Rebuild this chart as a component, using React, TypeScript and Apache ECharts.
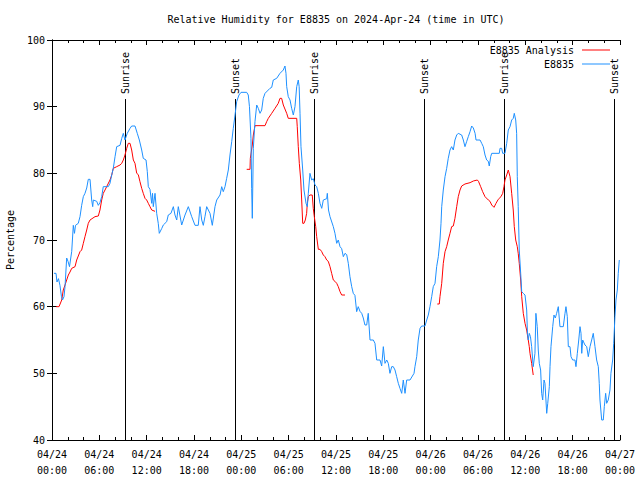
import React, { useEffect, useRef } from "react";
import * as echarts from "echarts";

// Time is in hours since 04/24 00:00 UTC
const titleText = "Relative Humidity for E8835 on 2024-Apr-24 (time in UTC)";
const yAxisName = "Percentage";
const obsName = "E8835";
const anaName = "E8835 Analysis";

const obsHours = [0.25,0.51,0.63,0.82,1.01,1.2,1.33,1.52,1.65,1.86,2.03,2.22,2.5,2.7,2.85,2.98,3.33,3.55,3.76,3.97,4.18,4.4,4.6,4.82,5.03,5.16,5.24,5.67,5.87,6.08,6.3,6.5,7.14,7.35,7.57,7.77,7.99,8.2,8.62,8.84,9.04,9.25,9.54,9.89,10.1,10.52,10.81,11.07,11.37,11.57,11.92,12.08,12.21,12.42,12.64,12.74,12.84,13.06,13.27,13.47,13.6,13.9,14.11,14.54,14.74,15.08,15.38,15.59,15.81,16.01,16.44,16.86,17.28,17.71,18.13,18.54,18.76,18.98,19.18,19.39,19.61,20.03,20.32,20.66,20.88,21.3,21.51,21.71,21.93,22.14,22.35,22.56,22.78,22.98,23.2,23.41,23.7,23.96,24.68,24.88,25.03,25.22,25.31,25.39,25.52,25.73,25.95,26.15,26.37,26.58,26.78,27.0,27.63,27.85,28.05,28.48,28.9,29.32,29.53,29.66,29.75,29.95,30.17,30.38,30.59,30.8,31.02,31.22,31.33,31.44,31.56,31.78,31.94,32.2,32.36,32.49,32.7,32.92,33.12,33.34,33.55,33.76,33.97,34.19,34.39,34.82,34.9,35.05,35.24,35.66,35.87,36.09,36.29,36.51,36.72,36.93,37.14,37.36,37.56,37.77,37.99,38.19,38.4,38.62,38.82,39.04,39.26,39.46,39.67,39.89,40.09,40.31,40.73,40.94,41.16,41.58,41.79,42.0,42.21,42.43,42.63,42.84,43.06,43.26,43.48,43.69,43.9,44.11,44.33,44.53,44.75,44.96,45.38,45.89,46.01,46.23,46.43,46.65,46.86,47.28,47.5,47.7,47.91,48.13,48.33,48.55,48.76,48.97,49.18,49.31,49.4,49.6,49.82,50.03,50.23,50.45,50.66,50.87,51.08,51.3,51.5,51.93,52.14,52.35,52.57,52.77,52.99,53.2,53.41,53.63,53.75,54.26,54.47,54.67,54.89,55.1,55.31,55.43,55.61,55.74,56.7,56.79,57.0,57.13,57.42,57.64,57.84,58.06,58.27,58.47,58.6,58.78,58.9,58.98,59.1,59.23,59.41,59.54,59.74,59.96,60.17,60.27,60.37,60.5,60.65,60.8,61.0,61.22,61.34,61.51,61.64,61.77,61.94,62.07,62.2,62.37,62.49,62.71,62.84,63.04,63.13,63.25,63.47,63.63,63.8,63.97,64.18,64.39,64.81,65.03,65.15,65.32,65.45,65.66,65.79,66.0,66.29,66.42,66.59,66.77,66.93,67.06,67.15,67.27,67.56,67.78,67.98,68.2,68.41,68.61,68.83,69.04,69.25,69.37,69.46,69.68,69.88,70.01,70.18,70.31,70.51,70.73,70.85,71.07,71.2,71.36,71.49,71.66,71.78,71.91];
const obsValues = [65.0,65.0,63.7,64.2,63.2,61.5,61.0,61.5,63.0,67.3,66.8,66.0,68.3,72.2,71.0,72.2,72.5,73.5,75.2,76.5,77.0,77.8,79.1,79.1,76.0,75.0,76.0,75.8,75.2,75.6,76.5,78.0,78.0,78.5,79.75,80.75,82.5,84.0,84.2,85.25,86.0,85.0,86.0,86.75,87.1,87.1,86.0,85.0,83.5,82.25,82.0,80.25,78.0,77.6,75.5,77.0,75.0,77.0,74.0,72.5,71.0,71.7,72.25,72.75,73.75,74.0,75.0,73.75,73.0,75.0,72.25,73.75,75.0,73.5,72.2,72.2,75.0,73.0,72.2,73.5,75.0,74.0,72.2,75.0,76.0,76.75,78.0,77.25,78.0,79.25,80.5,82.75,84.75,86.75,88.75,90.75,91.75,92.15,92.15,91.75,90.0,85.25,77.75,73.25,83.75,87.75,90.25,89.75,89.0,89.5,91.25,92.0,92.75,92.9,94.0,94.25,95.0,95.5,96.1,95.0,93.0,91.5,91.0,89.75,88.75,90.0,93.0,94.0,93.0,89.0,84.0,80.5,77.5,75.5,75.0,77.0,80.0,79.0,79.2,78.25,78.0,77.0,75.5,74.75,76.0,76.2,77.0,74.5,73.5,72.0,71.0,69.5,70.0,69.0,68.7,67.5,68.0,67.8,66.5,64.5,63.0,62.0,61.7,59.25,60.0,59.3,59.0,58.3,57.25,57.25,59.0,55.0,55.0,54.5,52.0,52.0,51.1,54.0,51.5,52.0,51.5,50.0,51.0,51.0,50.5,49.5,48.5,47.75,47.0,49.0,47.0,49.0,49.0,50.0,51.0,52.5,55.0,56.75,57.1,57.1,58.0,58.75,60.0,61.5,63.0,63.5,66.0,67.5,70.0,72.5,75.0,77.5,79.5,80.75,82.25,83.5,84.0,83.5,85.0,85.75,86.0,85.75,85.0,84.0,84.8,85.5,86.25,87.1,86.8,86.0,85.0,85.0,84.5,84.0,82.75,82.0,81.8,81.1,82.5,83.0,83.0,83.75,83.75,83.0,83.0,84.5,86.5,87.0,88.0,88.25,89.0,88.0,86.0,79.5,75.0,68.5,65.0,62.25,62.0,61.75,59.5,56.0,55.0,56.0,55.5,54.0,51.0,53.0,59.0,57.0,53.5,51.5,50.5,47.0,46.0,49.0,48.5,44.0,45.5,48.0,51.0,54.0,57.0,58.75,58.3,59.0,60.0,57.0,57.0,59.0,60.0,58.5,54.0,54.0,52.5,52.0,52.0,51.0,53.0,55.0,57.0,56.0,53.0,55.0,54.25,54.0,52.5,54.0,55.0,56.0,54.0,52.0,51.0,48.5,46.0,43.0,43.0,45.0,47.0,45.5,46.0,47.5,50.0,52.0,54.5,58.5,61.0,62.5,65.0,67.0];

// null marks a gap in the analysis
const anaHours = [0.51,0.89,1.23,1.43,1.65,1.86,2.07,2.28,2.5,2.92,3.13,3.55,3.76,3.97,4.18,4.4,4.6,4.82,5.45,5.87,6.08,6.3,6.5,6.72,6.93,7.35,7.57,7.77,8.2,8.62,8.84,9.04,9.25,9.47,9.67,9.89,10.1,10.31,10.52,10.74,10.94,11.15,11.37,11.57,11.79,12.0,12.21,12.42,12.64,13.06,18.0,24.68,25.1,25.14,25.39,25.52,25.73,27.0,27.21,27.42,27.85,28.27,28.68,28.9,29.11,29.32,29.75,29.95,31.02,31.09,31.22,31.35,31.53,31.65,31.78,31.94,32.11,32.28,32.36,32.49,32.7,32.99,33.12,33.25,33.43,33.55,33.76,33.97,34.19,34.39,34.6,34.82,35.02,35.24,35.45,35.66,35.87,36.09,36.29,36.51,36.72,37.14,43.0,48.84,49.09,49.18,49.4,49.6,49.82,50.03,50.23,50.45,50.66,50.87,51.08,51.3,51.5,51.72,51.93,52.35,52.99,53.41,53.91,54.06,54.34,54.59,54.89,55.31,55.52,55.74,56.03,56.28,56.57,56.91,57.13,57.29,57.42,57.64,57.84,58.06,58.27,58.47,58.6,58.78,58.98,59.1,59.23,59.41,59.54,59.74,59.96,60.17,60.37,60.5,60.59,60.8,61.0];
const anaValues = [60.0,60.0,61.0,62.5,63.25,64.0,64.75,65.2,65.75,66.0,67.0,68.25,68.5,69.5,70.5,71.5,72.5,73.0,73.5,73.6,74.5,76.0,77.0,77.5,78.0,79.0,79.75,80.75,81.0,81.25,81.5,82.0,82.75,83.75,84.5,84.5,83.5,82.0,81.5,80.0,79.8,78.75,77.75,77.0,76.25,76.0,75.5,75.0,74.5,74.3,null,80.6,80.6,82.25,84.25,85.75,87.15,87.15,87.75,88.25,89.0,89.75,90.5,91.25,91.25,90.25,89.0,88.25,88.25,87.0,84.0,81.5,79.0,76.0,72.5,72.5,73.0,74.0,75.5,76.5,76.75,76.75,74.75,73.5,72.0,70.5,68.6,68.6,68.25,67.75,67.5,67.0,66.8,66.0,65.0,64.0,63.8,63.5,63.0,62.25,61.75,61.75,null,60.4,60.4,61.5,63.5,66.5,68.25,69.0,70.0,71.0,72.0,72.1,73.25,75.0,76.5,77.5,78.1,78.4,78.6,78.85,79.0,78.8,78.0,77.25,76.5,76.0,75.8,75.25,74.9,75.5,76.1,76.5,77.0,78.0,79.0,79.75,80.5,79.5,77.0,74.5,72.0,70.0,69.0,68.0,66.5,64.0,61.5,59.0,57.5,56.5,55.0,54.0,53.0,51.5,49.75];

const sunHours = [9.29, 23.24, 33.25, 47.2, 57.34, 71.28];
const sunLabels = ["Sunrise", "Sunset", "Sunrise", "Sunset", "Sunrise", "Sunset"];
const sunLineTop = 91.15;

const xMin = 0, xMax = 72, xStep = 6;
const yMin = 40, yMax = 100, yStep = 10;

const FONT = '"DejaVu Sans Mono", "Liberation Mono", monospace';

function fmtTime(h: number): string {
  const day = 24 + Math.floor(h / 24);
  const hr = Math.round(h % 24);
  return "04/" + day + "\n" + String(hr).padStart(2, "0") + ":00";
}

export default function App() {
  const ref = useRef<HTMLDivElement>(null);
  useEffect(() => {
    if (!ref.current) return;
    const chart = echarts.init(ref.current, undefined, { renderer: "svg" });
    const obsData = obsHours.map((h, i) => [h, obsValues[i]]);
    const anaData = anaHours.map((h, i) => [h, anaValues[i]]);
    const axisLine = { show: true, lineStyle: { color: "#000", width: 1 } };
    const tick = { show: true, inside: true, length: 5, lineStyle: { color: "#000" } };
    const minor = { show: true, splitNumber: 3, length: 3, lineStyle: { color: "#000" } };
    const legendBase = {
      right: 30,
      padding: 0,
      align: "right",
      orient: "vertical",
      icon: "rect",
      itemWidth: 28,
      itemHeight: 1,
      selectedMode: false,
      textStyle: { fontFamily: FONT, fontSize: 10, color: "#000", padding: [0, 3, 0, 0] },
    };
    chart.setOption({
      animation: false,
      backgroundColor: "#fff",
      textStyle: { fontFamily: FONT },
      title: {
        text: titleText,
        left: 336,
        textAlign: "center",
        top: 14,
        padding: 0,
        textStyle: { fontFamily: FONT, fontSize: 10, fontWeight: "normal", color: "#000" },
      },
      legend: [
        { ...legendBase, data: [anaName], top: 45 },
        { ...legendBase, data: [obsName], top: 59 },
      ],
      grid: { left: 52, right: 20, top: 40, bottom: 40, containLabel: false, outerBoundsMode: "none" },
      xAxis: [
        {
          type: "value",
          min: xMin,
          max: xMax,
          interval: xStep,
          position: "bottom",
          axisLine,
          axisTick: tick,
          minorTick: minor,
          splitLine: { show: false },
          axisLabel: {
            formatter: (v: number) => fmtTime(v),
            color: "#000",
            fontFamily: FONT,
            fontSize: 10,
            lineHeight: 16,
            margin: 6,
          },
        },
        {
          type: "value",
          min: xMin,
          max: xMax,
          interval: xStep,
          position: "top",
          axisLine,
          axisTick: tick,
          minorTick: minor,
          splitLine: { show: false },
          axisLabel: { show: false },
        },
      ],
      yAxis: [
        {
          type: "value",
          min: yMin,
          max: yMax,
          interval: yStep,
          position: "left",
          name: yAxisName,
          nameLocation: "middle",
          nameGap: 37,
          nameRotate: 90,
          nameTextStyle: { fontFamily: FONT, fontSize: 10, color: "#000" },
          axisLine,
          axisTick: tick,
          splitLine: { show: false },
          axisLabel: { color: "#000", fontFamily: FONT, fontSize: 10, margin: 7 },
        },
        {
          type: "value",
          min: yMin,
          max: yMax,
          interval: yStep,
          position: "right",
          axisLine,
          axisTick: tick,
          splitLine: { show: false },
          axisLabel: { show: false },
        },
      ],
      series: [
        {
          type: "custom",
          name: "sun",
          xAxisIndex: 0,
          yAxisIndex: 0,
          silent: true,
          data: sunHours.map((h) => [h]),
          encode: { x: 0 },
          renderItem: (params: any, api: any) => {
            const h = api.value(0);
            const b = api.coord([h, yMin]);
            const t = api.coord([h, sunLineTop]);
            const x = Math.round(b[0]) + 0.5;
            return {
              type: "group",
              children: [
                {
                  type: "line",
                  shape: { x1: x, y1: b[1], x2: x, y2: t[1] },
                  style: { stroke: "#000", lineWidth: 1 },
                },
                {
                  type: "text",
                  x: x,
                  y: t[1] - 5,
                  rotation: Math.PI / 2,
                  style: {
                    text: sunLabels[params.dataIndex],
                    fill: "#000",
                    fontFamily: FONT,
                    fontSize: 10,
                    align: "left",
                    verticalAlign: "middle",
                  },
                },
              ],
            };
          },
        },
        {
          type: "line",
          name: anaName,
          data: anaData,
          showSymbol: false,
          symbol: "none",
          connectNulls: false,
          lineStyle: { color: "#ff0000", width: 1 },
          itemStyle: { color: "#ff0000" },
        },
        {
          type: "line",
          name: obsName,
          data: obsData,
          showSymbol: false,
          symbol: "none",
          lineStyle: { color: "#1e90ff", width: 1 },
          itemStyle: { color: "#1e90ff" },
        },
      ],
    });
    return () => chart.dispose();
  }, []);
  return (
    <div
      ref={ref}
      style={{ position: "absolute", left: 0, top: 0, width: 640, height: 480 }}
    />
  );
}
